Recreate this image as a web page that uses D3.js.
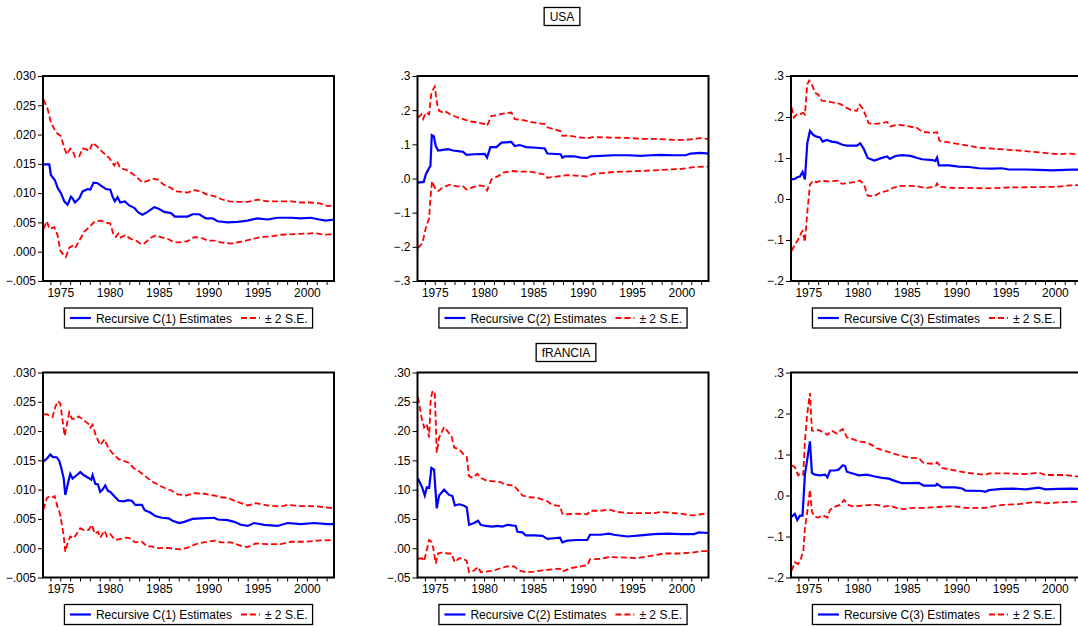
<!DOCTYPE html>
<html>
<head>
<meta charset="utf-8">
<script src="https://cdn.jsdelivr.net/npm/d3@7"></script>
<style>
body { margin: 0; background: #fff; }
svg { display: block; font-family: "Liberation Sans", Arial, sans-serif; }
</style>
</head>
<body>
<svg class="chart"></svg>
<script>
// ---- data: [year, value] ----
// USA C(1)
const usaC1Est = [[1973.3,.0149],[1973.89,.0149],[1974.05,.0131],[1974.46,.0122],[1974.73,.0109],[1975.07,.0100],[1975.41,.0086],[1975.74,.0080],[1976.08,.0094],[1976.25,.0091],[1976.49,.0084],[1976.93,.0091],[1977.26,.0103],[1977.77,.0107],[1978.04,.0106],[1978.38,.0118],[1978.78,.0117],[1979.12,.0113],[1979.63,.0107],[1980.07,.0106],[1980.30,.0094],[1980.54,.0086],[1980.81,.0093],[1981.08,.0084],[1981.55,.0086],[1981.99,.0079],[1982.50,.0075],[1982.91,.0067],[1983.34,.0063],[1983.85,.0068],[1984.53,.0076],[1985.03,.0073],[1985.54,.0068],[1986.22,.0066],[1986.62,.0060],[1987.23,.0060],[1987.91,.0060],[1988.41,.0064],[1989.09,.0064],[1989.76,.0057],[1990.44,.0057],[1990.95,.0052],[1991.96,.0050],[1992.97,.0051],[1993.99,.0053],[1995.0,.0057],[1996.01,.0055],[1997.03,.0058],[1998.38,.0058],[1999.39,.0057],[2000.41,.0058],[2001.25,.0055],[2001.93,.0053],[2002.75,.0055]];
const usaC1Up = [[1973.3,.0260],[1973.72,.0244],[1974.05,.0221],[1974.56,.0204],[1975.07,.0197],[1975.41,.0177],[1975.68,.0166],[1976.01,.0176],[1976.25,.0173],[1976.49,.0162],[1976.93,.0163],[1977.26,.0176],[1977.60,.0175],[1977.94,.0172],[1978.28,.0186],[1978.78,.0179],[1979.29,.0170],[1979.97,.0160],[1980.47,.0147],[1980.74,.0155],[1981.08,.0143],[1981.66,.0140],[1982.33,.0133],[1982.84,.0126],[1983.34,.0118],[1983.85,.0121],[1984.36,.0125],[1984.86,.0123],[1985.54,.0114],[1986.22,.0109],[1986.72,.0103],[1987.40,.0102],[1987.91,.0101],[1988.58,.0105],[1989.26,.0103],[1989.93,.0097],[1990.61,.0095],[1991.28,.0090],[1992.13,.0086],[1993.14,.0085],[1993.99,.0085],[1995.0,.0089],[1996.01,.0086],[1997.36,.0086],[1998.38,.0086],[1999.39,.0084],[2000.41,.0084],[2001.42,.0082],[2002.09,.0078],[2002.75,.0079]];
const usaC1Lo = [[1973.3,.0039],[1973.65,.0052],[1973.89,.0039],[1974.39,.0042],[1974.73,.0028],[1975.0,.0002],[1975.41,-.0007],[1975.57,-.0009],[1975.91,.0007],[1976.25,.0010],[1976.49,.0006],[1976.93,.0019],[1977.43,.0034],[1977.94,.0042],[1978.45,.0051],[1979.12,.0053],[1979.63,.0050],[1980.07,.0048],[1980.41,.0028],[1980.64,.0025],[1980.88,.0031],[1981.15,.0024],[1981.55,.0028],[1982.16,.0022],[1982.67,.0019],[1983.18,.0013],[1983.51,.0014],[1984.19,.0024],[1984.70,.0028],[1985.20,.0025],[1985.88,.0022],[1986.55,.0016],[1987.23,.0016],[1987.91,.0018],[1988.58,.0025],[1989.26,.0024],[1989.93,.0019],[1990.61,.0019],[1991.28,.0016],[1992.30,.0014],[1993.31,.0017],[1994.32,.0021],[1995.34,.0025],[1996.35,.0026],[1997.36,.0029],[1998.72,.0030],[2000.07,.0031],[2000.74,.0032],[2001.76,.0029],[2002.75,.0030]];

// USA C(2)
const usaC2Est = [[1973.3,-.012],[1973.88,-.010],[1974.09,.012],[1974.43,.031],[1974.56,.036],[1974.70,.127],[1974.90,.124],[1975.10,.095],[1975.34,.082],[1975.84,.084],[1976.35,.086],[1976.86,.082],[1977.36,.080],[1977.87,.078],[1978.21,.069],[1979.05,.071],[1980.07,.072],[1980.30,.061],[1980.64,.092],[1981.25,.092],[1981.76,.105],[1982.77,.107],[1983.11,.095],[1983.61,.098],[1984.29,.092],[1985.30,.090],[1986.15,.088],[1986.41,.073],[1987.76,.071],[1987.93,.061],[1988.16,.065],[1989.11,.065],[1989.79,.061],[1990.46,.060],[1990.80,.065],[1991.81,.066],[1993.16,.068],[1994.52,.068],[1995.87,.066],[1996.88,.068],[1997.89,.069],[1999.25,.068],[2000.43,.068],[2000.94,.073],[2001.95,.075],[2002.75,.073]];
const usaC2Up = [[1973.3,.178],[1973.65,.188],[1973.82,.174],[1974.09,.193],[1974.43,.188],[1974.66,.252],[1975.0,.269],[1975.24,.218],[1975.44,.198],[1975.84,.193],[1976.11,.196],[1976.52,.188],[1977.20,.180],[1977.87,.174],[1978.55,.167],[1979.39,.164],[1980.07,.159],[1980.30,.154],[1980.74,.183],[1981.42,.186],[1981.93,.190],[1982.77,.193],[1983.11,.174],[1983.95,.171],[1984.97,.164],[1986.15,.159],[1986.41,.150],[1987.0,.145],[1987.76,.138],[1987.93,.125],[1988.5,.126],[1989.5,.121],[1990.46,.118],[1991.0,.121],[1992.5,.120],[1994.5,.119],[1995.9,.116],[1997.5,.116],[1999.25,.113],[2000.43,.113],[2001.3,.116],[2001.95,.118],[2002.75,.115]];
const usaC2Lo = [[1973.3,-.204],[1973.75,-.189],[1974.09,-.145],[1974.43,-.116],[1974.56,-.057],[1974.73,-.008],[1975.0,-.027],[1975.34,-.037],[1975.84,-.025],[1976.52,-.018],[1977.2,-.023],[1977.87,-.023],[1978.21,-.032],[1978.89,-.025],[1979.56,-.020],[1980.07,-.023],[1980.3,-.035],[1980.74,-.003],[1981.42,.007],[1981.93,.017],[1982.77,.022],[1983.61,.020],[1984.63,.020],[1986.15,.012],[1986.41,.002],[1988.43,.010],[1990.46,.006],[1991.14,.014],[1993.16,.019],[1995.87,.022],[1997.89,.025],[2000.0,.028],[2001.27,.033],[2002.29,.035],[2002.75,.035]];

// USA C(3)
const usaC3Est = [[1973.3,.048],[1973.64,.049],[1973.88,.053],[1974.15,.055],[1974.42,.066],[1974.66,.048],[1974.90,.136],[1975.17,.166],[1975.51,.156],[1975.85,.152],[1976.19,.150],[1976.46,.140],[1976.87,.144],[1977.38,.140],[1977.89,.138],[1978.40,.133],[1978.91,.130],[1979.59,.130],[1979.93,.130],[1980.27,.136],[1980.61,.123],[1981.02,.100],[1981.70,.094],[1982.31,.099],[1982.99,.104],[1983.27,.098],[1983.84,.105],[1984.52,.107],[1985.37,.105],[1986.05,.100],[1986.54,.097],[1987.56,.095],[1987.89,.093],[1988.06,.101],[1988.23,.082],[1989.25,.082],[1990.26,.079],[1991.27,.078],[1992.29,.075],[1993.64,.074],[1994.65,.075],[1995.33,.072],[1997.02,.072],[1998.37,.071],[1999.72,.070],[2001.07,.071],[2001.91,.072],[2002.75,.071]];
const usaC3Up = [[1973.3,.224],[1973.54,.199],[1973.81,.206],[1974.15,.207],[1974.49,.210],[1974.66,.206],[1974.90,.280],[1975.10,.289],[1975.44,.275],[1975.68,.259],[1976.02,.255],[1976.36,.240],[1977.04,.238],[1977.72,.234],[1978.23,.232],[1978.74,.224],[1979.25,.218],[1979.93,.215],[1980.20,.230],[1980.54,.220],[1980.78,.206],[1981.12,.185],[1981.63,.183],[1982.48,.185],[1982.99,.188],[1983.33,.177],[1984.01,.181],[1984.86,.179],[1986.05,.173],[1986.54,.164],[1987.56,.161],[1988.06,.163],[1988.30,.142],[1989.58,.137],[1991.27,.130],[1992.29,.125],[1993.64,.123],[1995.33,.120],[1997.02,.117],[1998.71,.113],[2000.39,.109],[2001.41,.111],[2002.75,.108]];
const usaC3Lo = [[1973.3,-.127],[1973.64,-.111],[1973.98,-.099],[1974.32,-.081],[1974.42,-.078],[1974.66,-.105],[1974.90,-.033],[1975.17,.035],[1975.51,.045],[1975.85,.041],[1976.36,.045],[1977.04,.043],[1978.06,.045],[1978.40,.037],[1979.59,.041],[1980.27,.045],[1980.68,.033],[1981.02,.008],[1981.70,.007],[1982.31,.016],[1982.99,.020],[1983.67,.028],[1984.35,.032],[1985.37,.032],[1986.05,.031],[1986.88,.027],[1987.89,.030],[1988.06,.038],[1988.23,.030],[1989.58,.027],[1991.27,.027],[1992.96,.026],[1995.33,.028],[1998.03,.029],[2000.39,.030],[2001.41,.033],[2002.75,.034]];

// fRANCIA C(1)
const fraC1Est = [[1973.3,.0148],[1973.65,.0153],[1973.99,.0160],[1974.22,.0156],[1974.66,.0155],[1974.90,.0149],[1975.10,.0137],[1975.34,.0120],[1975.51,.0091],[1975.78,.0111],[1976.01,.0127],[1976.25,.0119],[1976.69,.0125],[1977.03,.0130],[1977.36,.0125],[1977.87,.0120],[1978.14,.0117],[1978.28,.0125],[1978.55,.0110],[1978.82,.0109],[1979.05,.0096],[1979.29,.0100],[1979.56,.0107],[1979.83,.0098],[1980.07,.0096],[1980.41,.0090],[1980.91,.0081],[1981.42,.0080],[1981.86,.0082],[1982.26,.0081],[1982.60,.0074],[1983.28,.0074],[1983.55,.0065],[1984.12,.0061],[1984.63,.0055],[1985.30,.0052],[1985.98,.0051],[1986.38,.0047],[1987.06,.0043],[1987.57,.0045],[1988.41,.0050],[1989.26,.0051],[1990.61,.0052],[1990.95,.0049],[1991.96,.0048],[1992.64,.0045],[1993.31,.0040],[1993.99,.0038],[1994.66,.0043],[1995.68,.0040],[1997.03,.0038],[1998.04,.0043],[1999.39,.0041],[2000.74,.0043],[2002.09,.0041],[2002.75,.0041]];
const fraC1Up = [[1973.3,.0228],[1973.65,.0229],[1973.89,.0226],[1974.22,.0224],[1974.49,.0241],[1974.76,.0251],[1975.0,.0247],[1975.24,.0218],[1975.44,.0192],[1975.68,.0212],[1975.91,.0232],[1976.18,.0221],[1976.52,.0221],[1976.86,.0225],[1977.36,.0219],[1977.87,.0212],[1978.04,.0206],[1978.28,.0211],[1978.61,.0192],[1979.05,.0176],[1979.49,.0186],[1979.73,.0176],[1980.24,.0163],[1980.91,.0152],[1981.42,.0149],[1981.93,.0146],[1982.43,.0137],[1982.94,.0132],[1983.61,.0123],[1984.29,.0114],[1984.97,.0108],[1985.81,.0101],[1986.22,.0099],[1986.89,.0092],[1987.74,.0090],[1988.58,.0094],[1989.59,.0093],[1990.61,.0090],[1991.28,.0087],[1991.96,.0086],[1992.97,.0079],[1993.99,.0073],[1994.83,.0077],[1996.01,.0073],[1997.36,.0071],[1998.04,.0074],[1999.39,.0072],[2000.74,.0072],[2001.76,.0070],[2002.75,.0068]];
const fraC1Lo = [[1973.3,.0066],[1973.65,.0086],[1973.99,.0089],[1974.22,.0087],[1974.43,.0089],[1974.66,.0074],[1975.0,.0057],[1975.34,.0022],[1975.51,-.0006],[1975.78,.0011],[1976.01,.0020],[1976.35,.0017],[1976.69,.0025],[1977.03,.0034],[1977.36,.0031],[1977.87,.0031],[1978.21,.0040],[1978.48,.0025],[1978.82,.0028],[1979.05,.0018],[1979.49,.0030],[1979.73,.0020],[1980.07,.0024],[1980.57,.0014],[1981.08,.0016],[1981.66,.0018],[1982.09,.0017],[1982.60,.0010],[1983.28,.0011],[1983.78,.0003],[1984.29,.0003],[1984.80,.0000],[1985.64,.0001],[1986.55,-.0001],[1987.23,-.0002],[1987.91,.0001],[1988.92,.0008],[1989.93,.0011],[1990.61,.0013],[1991.28,.0010],[1992.30,.0010],[1993.31,.0004],[1993.99,.0002],[1994.83,.0008],[1996.01,.0007],[1997.36,.0007],[1998.38,.0011],[1999.73,.0011],[2001.08,.0013],[2002.75,.0014]];

// fRANCIA C(2)
const fraC2Est = [[1973.3,.119],[1973.72,.104],[1973.99,.090],[1974.19,.104],[1974.43,.103],[1974.66,.137],[1974.93,.134],[1975.20,.068],[1975.44,.090],[1975.95,.100],[1976.45,.091],[1976.79,.089],[1977.03,.073],[1977.47,.075],[1977.91,.073],[1978.24,.070],[1978.48,.040],[1978.99,.043],[1979.39,.047],[1979.66,.040],[1980.17,.038],[1980.84,.037],[1981.35,.038],[1981.86,.037],[1982.36,.040],[1983.21,.038],[1983.38,.028],[1983.89,.027],[1984.22,.022],[1985.07,.022],[1985.91,.021],[1986.41,.016],[1987.08,.017],[1987.69,.018],[1987.93,.010],[1988.44,.013],[1989.45,.014],[1990.46,.014],[1990.73,.023],[1991.81,.023],[1992.66,.025],[1993.16,.023],[1994.52,.020],[1995.87,.022],[1997.22,.024],[1998.57,.025],[1999.92,.024],[2001.27,.024],[2001.78,.027],[2002.75,.026]];
const fraC2Up = [[1973.3,.258],[1973.65,.224],[1973.92,.206],[1974.19,.212],[1974.43,.189],[1974.59,.255],[1974.76,.267],[1975.0,.268],[1975.20,.163],[1975.44,.189],[1975.95,.207],[1976.28,.200],[1976.69,.192],[1976.96,.172],[1977.47,.169],[1977.97,.159],[1978.24,.156],[1978.48,.123],[1978.82,.120],[1979.32,.127],[1979.66,.120],[1980.17,.116],[1981.01,.114],[1981.69,.113],[1982.03,.109],[1983.04,.107],[1983.38,.100],[1983.89,.090],[1984.56,.087],[1985.41,.086],[1985.91,.083],[1986.41,.080],[1986.9,.074],[1987.69,.072],[1987.93,.059],[1988.44,.058],[1989.45,.059],[1990.46,.058],[1990.73,.064],[1991.81,.064],[1992.66,.066],[1993.5,.062],[1994.52,.060],[1995.87,.060],[1997.22,.060],[1997.9,.062],[1998.57,.061],[1999.92,.059],[2000.6,.057],[2001.27,.056],[2002.0,.058],[2002.75,.059]];
const fraC2Lo = [[1973.3,-.018],[1973.72,-.017],[1973.92,-.022],[1974.19,-.003],[1974.43,.014],[1974.66,.011],[1974.86,-.001],[1975.10,-.026],[1975.34,-.009],[1975.78,-.007],[1976.28,-.009],[1976.69,-.009],[1977.03,-.024],[1977.47,-.017],[1977.91,-.018],[1978.24,-.022],[1978.48,-.041],[1978.99,-.038],[1979.39,-.032],[1979.66,-.041],[1980.17,-.040],[1981.01,-.038],[1981.69,-.034],[1982.36,-.031],[1983.04,-.031],[1983.55,-.038],[1984.22,-.041],[1985.07,-.040],[1985.91,-.038],[1986.92,-.036],[1987.69,-.035],[1987.93,-.040],[1988.77,-.034],[1989.79,-.031],[1990.46,-.029],[1990.73,-.019],[1991.81,-.018],[1992.66,-.015],[1994.52,-.016],[1995.53,-.017],[1996.88,-.013],[1998.23,-.009],[1999.92,-.009],[2001.27,-.007],[2001.95,-.005],[2002.75,-.005]];

// fRANCIA C(3)
const fraC3Est = [[1973.3,-.052],[1973.64,-.045],[1973.88,-.060],[1974.15,-.049],[1974.42,-.049],[1974.66,.051],[1974.90,.088],[1975.17,.132],[1975.37,.055],[1975.68,.051],[1976.19,.049],[1976.70,.051],[1976.94,.044],[1977.21,.061],[1977.72,.061],[1978.06,.063],[1978.50,.074],[1978.74,.072],[1978.91,.058],[1979.59,.053],[1980.10,.049],[1980.95,.051],[1981.63,.047],[1982.48,.043],[1983.16,.041],[1983.84,.035],[1984.52,.030],[1985.37,.030],[1986.21,.031],[1986.71,.024],[1987.89,.024],[1988.06,.028],[1988.57,.020],[1989.92,.020],[1990.60,.017],[1990.94,.012],[1992.62,.011],[1992.96,.009],[1993.30,.013],[1994.65,.016],[1995.66,.017],[1997.02,.015],[1998.37,.019],[1999.04,.015],[2000.39,.016],[2001.74,.017],[2002.75,.016]];
const fraC3Up = [[1973.3,.074],[1973.64,.069],[1973.98,.049],[1974.22,.055],[1974.49,.051],[1974.66,.133],[1974.90,.199],[1975.17,.250],[1975.37,.158],[1975.68,.158],[1976.02,.160],[1976.53,.154],[1976.94,.148],[1977.38,.158],[1977.89,.151],[1978.23,.158],[1978.50,.162],[1978.91,.142],[1979.59,.137],[1980.10,.132],[1980.95,.129],[1981.46,.123],[1981.97,.115],[1982.65,.110],[1983.67,.102],[1984.52,.096],[1985.37,.092],[1986.21,.091],[1986.71,.079],[1987.89,.077],[1988.06,.081],[1988.57,.067],[1989.92,.061],[1990.94,.056],[1992.96,.050],[1993.30,.054],[1995.33,.054],[1997.02,.052],[1998.37,.056],[1999.04,.050],[2001.07,.050],[2002.35,.046],[2002.75,.045]];
const fraC3Lo = [[1973.3,-.184],[1973.64,-.163],[1973.98,-.167],[1974.22,-.156],[1974.49,-.137],[1974.66,-.081],[1974.90,-.040],[1975.17,.014],[1975.37,-.040],[1975.68,-.052],[1976.02,-.054],[1976.46,-.048],[1976.94,-.054],[1977.21,-.035],[1977.72,-.027],[1978.23,-.023],[1978.64,-.011],[1979.08,-.023],[1979.59,-.027],[1980.27,-.025],[1981.29,-.023],[1981.97,-.023],[1982.65,-.027],[1983.33,-.025],[1984.01,-.031],[1984.69,-.033],[1985.37,-.031],[1986.05,-.030],[1986.88,-.030],[1988.23,-.028],[1989.58,-.026],[1990.94,-.030],[1992.96,-.030],[1994.65,-.023],[1996.34,-.021],[1997.69,-.017],[1998.37,-.016],[1999.04,-.019],[2001.07,-.016],[2002.75,-.015]];

// ---- axes ----
const xDomain = [1973.25, 2002.75];
const yearTicks = d3.range(1974, 2003);
const yearLabels = [1975, 1980, 1985, 1990, 1995, 2000];
const ticksC1 = [-0.005, 0, 0.005, 0.010, 0.015, 0.020, 0.025, 0.030];
const ticksUsaC2 = [-0.3, -0.2, -0.1, 0, 0.1, 0.2, 0.3];
const ticksC3 = [-0.2, -0.1, 0, 0.1, 0.2, 0.3];
const ticksFraC2 = [-0.05, 0, 0.05, 0.10, 0.15, 0.20, 0.25, 0.30];
const countryTitles = ["USA", "fRANCIA"];
const seLabel = "\u00b1 2 S.E.";

// ---- layout ----
const canvas = {width: 1078, height: 627};
const colX = [43, 417.5, 791];
const rowY = [76, 372.5];
const plotW = 291, plotH = 205;
const titlePos = [{x: 562, y: 16.5}, {x: 566, y: 352.5}];

const panels = [
    {row: 0, col: 0, est: usaC1Est, up: usaC1Up, lo: usaC1Lo, ticks: ticksC1, dec: 3, name: "Recursive C(1) Estimates"},
    {row: 0, col: 1, est: usaC2Est, up: usaC2Up, lo: usaC2Lo, ticks: ticksUsaC2, dec: 1, name: "Recursive C(2) Estimates"},
    {row: 0, col: 2, est: usaC3Est, up: usaC3Up, lo: usaC3Lo, ticks: ticksC3, dec: 1, name: "Recursive C(3) Estimates"},
    {row: 1, col: 0, est: fraC1Est, up: fraC1Up, lo: fraC1Lo, ticks: ticksC1, dec: 3, name: "Recursive C(1) Estimates"},
    {row: 1, col: 1, est: fraC2Est, up: fraC2Up, lo: fraC2Lo, ticks: ticksFraC2, dec: 2, name: "Recursive C(2) Estimates"},
    {row: 1, col: 2, est: fraC3Est, up: fraC3Up, lo: fraC3Lo, ticks: ticksC3, dec: 1, name: "Recursive C(3) Estimates"}
];

const svg = d3.select(".chart")
    .attr("width", canvas.width)
    .attr("height", canvas.height);

function fmtTick(d, dec) {
    return d3.format("." + dec + "f")(d).replace("0.", ".").replace("\u22120", "-").replace("-0", "-");
}

function drawPanel(p) {
    const g = svg.append("g")
        .attr("transform", "translate(" + colX[p.col] + "," + rowY[p.row] + ")");

    const x = d3.scaleLinear().domain(xDomain).range([0, plotW]);
    const y = d3.scaleLinear().domain(d3.extent(p.ticks)).range([plotH, 0]);

    const yAxis = d3.axisLeft(y).tickValues(p.ticks).tickSize(5).tickPadding(2)
        .tickFormat(d => fmtTick(d, p.dec));
    const gy = g.append("g").call(yAxis);
    gy.select(".domain").remove();

    const xAxis = d3.axisBottom(x).tickValues(yearTicks).tickSize(4).tickPadding(3)
        .tickFormat(d => yearLabels.includes(d) ? d : "");
    const gx = g.append("g").attr("transform", "translate(0," + plotH + ")").call(xAxis);
    gx.select(".domain").remove();

    g.selectAll(".tick text").attr("font-size", 12).attr("fill", "#000")
        .attr("font-family", "'Liberation Sans', Arial, sans-serif");
    g.selectAll(".tick line").attr("stroke", "#000");

    const line = d3.line().x(d => x(d[0])).y(d => y(d[1]));

    [p.up, p.lo].forEach(s => {
        g.append("path").datum(s)
            .attr("d", line)
            .attr("fill", "none")
            .attr("stroke", "#ff0000")
            .attr("stroke-width", 1.8)
            .attr("stroke-dasharray", "6,3");
    });
    g.append("path").datum(p.est)
        .attr("d", line)
        .attr("fill", "none")
        .attr("stroke", "#0000ff")
        .attr("stroke-width", 2.2);

    g.append("rect")
        .attr("x", 0).attr("y", 0)
        .attr("width", plotW).attr("height", plotH)
        .attr("fill", "none")
        .attr("stroke", "#000")
        .attr("stroke-width", 2);

    // legend
    const lg = g.append("g").attr("transform", "translate(0," + (plotH + 27) + ")");
    const box = lg.append("rect").attr("y", 0).attr("height", 20)
        .attr("fill", "#fff").attr("stroke", "#000").attr("stroke-width", 1.3);
    const t1 = lg.append("text").attr("y", 14.5).attr("font-size", 12).text(p.name);
    const t2 = lg.append("text").attr("y", 14.5).attr("font-size", 12).text(seLabel);
    const w1 = t1.node().getComputedTextLength();
    const w2 = t2.node().getComputedTextLength();
    const total = 5.5 + 21 + 5 + w1 + 9 + 19 + 5 + w2 + 5;
    const x0 = plotW / 2 - total / 2;
    box.attr("x", x0).attr("width", total);
    lg.append("line").attr("x1", x0 + 5.5).attr("x2", x0 + 26.5).attr("y1", 10).attr("y2", 10)
        .attr("stroke", "#0000ff").attr("stroke-width", 2.2);
    t1.attr("x", x0 + 31.5);
    const x2 = x0 + 31.5 + w1 + 9;
    lg.append("line").attr("x1", x2).attr("x2", x2 + 19).attr("y1", 10).attr("y2", 10)
        .attr("stroke", "#ff0000").attr("stroke-width", 1.8).attr("stroke-dasharray", "6,3");
    t2.attr("x", x2 + 24);
}

function drawTitle(label, pos) {
    const g = svg.append("g");
    const t = g.append("text").attr("x", pos.x).attr("y", pos.y + 4.5)
        .attr("text-anchor", "middle").attr("font-size", 12).text(label);
    const w = t.node().getComputedTextLength();
    g.insert("rect", "text")
        .attr("x", pos.x - w / 2 - 5.5).attr("y", pos.y - 9)
        .attr("width", w + 11).attr("height", 18)
        .attr("fill", "#fff").attr("stroke", "#000").attr("stroke-width", 1.3);
}

panels.forEach(drawPanel);
countryTitles.forEach((c, i) => drawTitle(c, titlePos[i]));
</script>
</body>
</html>
